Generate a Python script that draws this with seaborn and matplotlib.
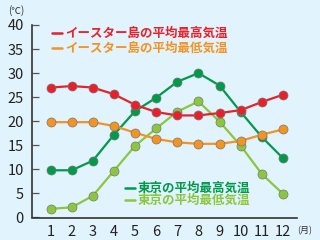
import matplotlib
matplotlib.use("Agg")
import matplotlib.pyplot as plt
from matplotlib.lines import Line2D
import seaborn as sns
import pandas as pd

months = [1, 2, 3, 4, 5, 6, 7, 8, 9, 10, 11, 12]
easter_high = [27.0, 27.3, 27.0, 25.6, 23.4, 21.9, 21.2, 21.2, 21.7, 22.3, 24.0, 25.5]
easter_low = [19.8, 19.8, 19.8, 19.0, 17.6, 16.3, 15.6, 15.3, 15.3, 15.9, 17.2, 18.3]
tokyo_high = [9.8, 9.8, 11.8, 17.2, 22.1, 24.9, 28.2, 30.0, 27.4, 21.9, 16.7, 12.3]
tokyo_low = [1.8, 2.1, 4.5, 9.7, 14.9, 18.5, 22.0, 24.1, 19.9, 14.9, 9.0, 4.9]

series_names = ["東京の平均最低気温", "東京の平均最高気温",
                "イースター島の平均最低気温", "イースター島の平均最高気温"]
series_values = [tokyo_low, tokyo_high, easter_low, easter_high]
colors = ["#8cc63f", "#009a4a", "#f39322", "#e8202a"]
yticks = [0, 5, 10, 15, 20, 25, 30, 35, 40]

rows = []
for name, vals in zip(series_names, series_values):
    for m, v in zip(months, vals):
        rows.append({"month": m, "temp": v, "series": name})
df = pd.DataFrame(rows)

sns.set_style("ticks")
plt.rcParams['font.family'] = ['Noto Sans CJK JP', 'DejaVu Sans']
bg = "#e1f3fc"

fig = plt.figure(figsize=(3.2, 2.4), dpi=100, facecolor=bg)
ax = fig.add_axes([0.1, 0.09, 0.828, 0.806])
ax.set_facecolor(bg)

for name, col in zip(series_names, colors):
    sub = df[df["series"] == name]
    sns.lineplot(data=sub, x="month", y="temp", ax=ax, color=col, lw=1.6,
                 marker="o", markersize=6.5, markeredgecolor="#777777",
                 markeredgewidth=0.5, legend=False)

ax.set_xlim(0.12, 12.66)
ax.set_ylim(-0.2, 40)
ax.set_yticks(yticks)
ax.set_xticks(months)
ax.set_xlabel("")
ax.set_ylabel("")
for s in ["top", "right"]:
    ax.spines[s].set_visible(False)
ax.spines["left"].set_bounds(0, 40)
ax.spines["left"].set_color("#333333")
ax.spines["bottom"].set_color("#333333")
ax.spines["left"].set_linewidth(1.2)
ax.spines["bottom"].set_linewidth(1.2)
ax.tick_params(axis="y", direction="in", length=5, width=0.9, color="#555555",
               labelsize=10.5, pad=6, labelcolor="#222222")
ax.tick_params(axis="x", length=0, labelsize=10.5, pad=5, labelcolor="#222222")

fig.text(0.025, 0.958, "(℃)", fontsize=7, color="#333333", va="center")
fig.text(0.928, 0.04, "(月)", fontsize=6.5, color="#333333", va="center")

# legend entries: (line start x px, y px, text, colour)
leg_items = [
    (52, 33, "イースター島の平均最高気温", colors[3]),
    (52, 48, "イースター島の平均最低気温", colors[2]),
    (125, 188, "東京の平均最高気温", colors[1]),
    (125, 200, "東京の平均最低気温", colors[0]),
]
W, H = 320.0, 240.0
for x, y, t, c in leg_items:
    fy = 1 - y / H
    fig.add_artist(Line2D([x / W, (x + 10) / W], [fy, fy], color=c, lw=1.8,
                          transform=fig.transFigure))
    fig.text((x + 13) / W, fy, t, fontsize=9, color=c, va="center", ha="left",
             fontweight="bold")

fig.savefig("out.png", dpi=100, facecolor=bg)
